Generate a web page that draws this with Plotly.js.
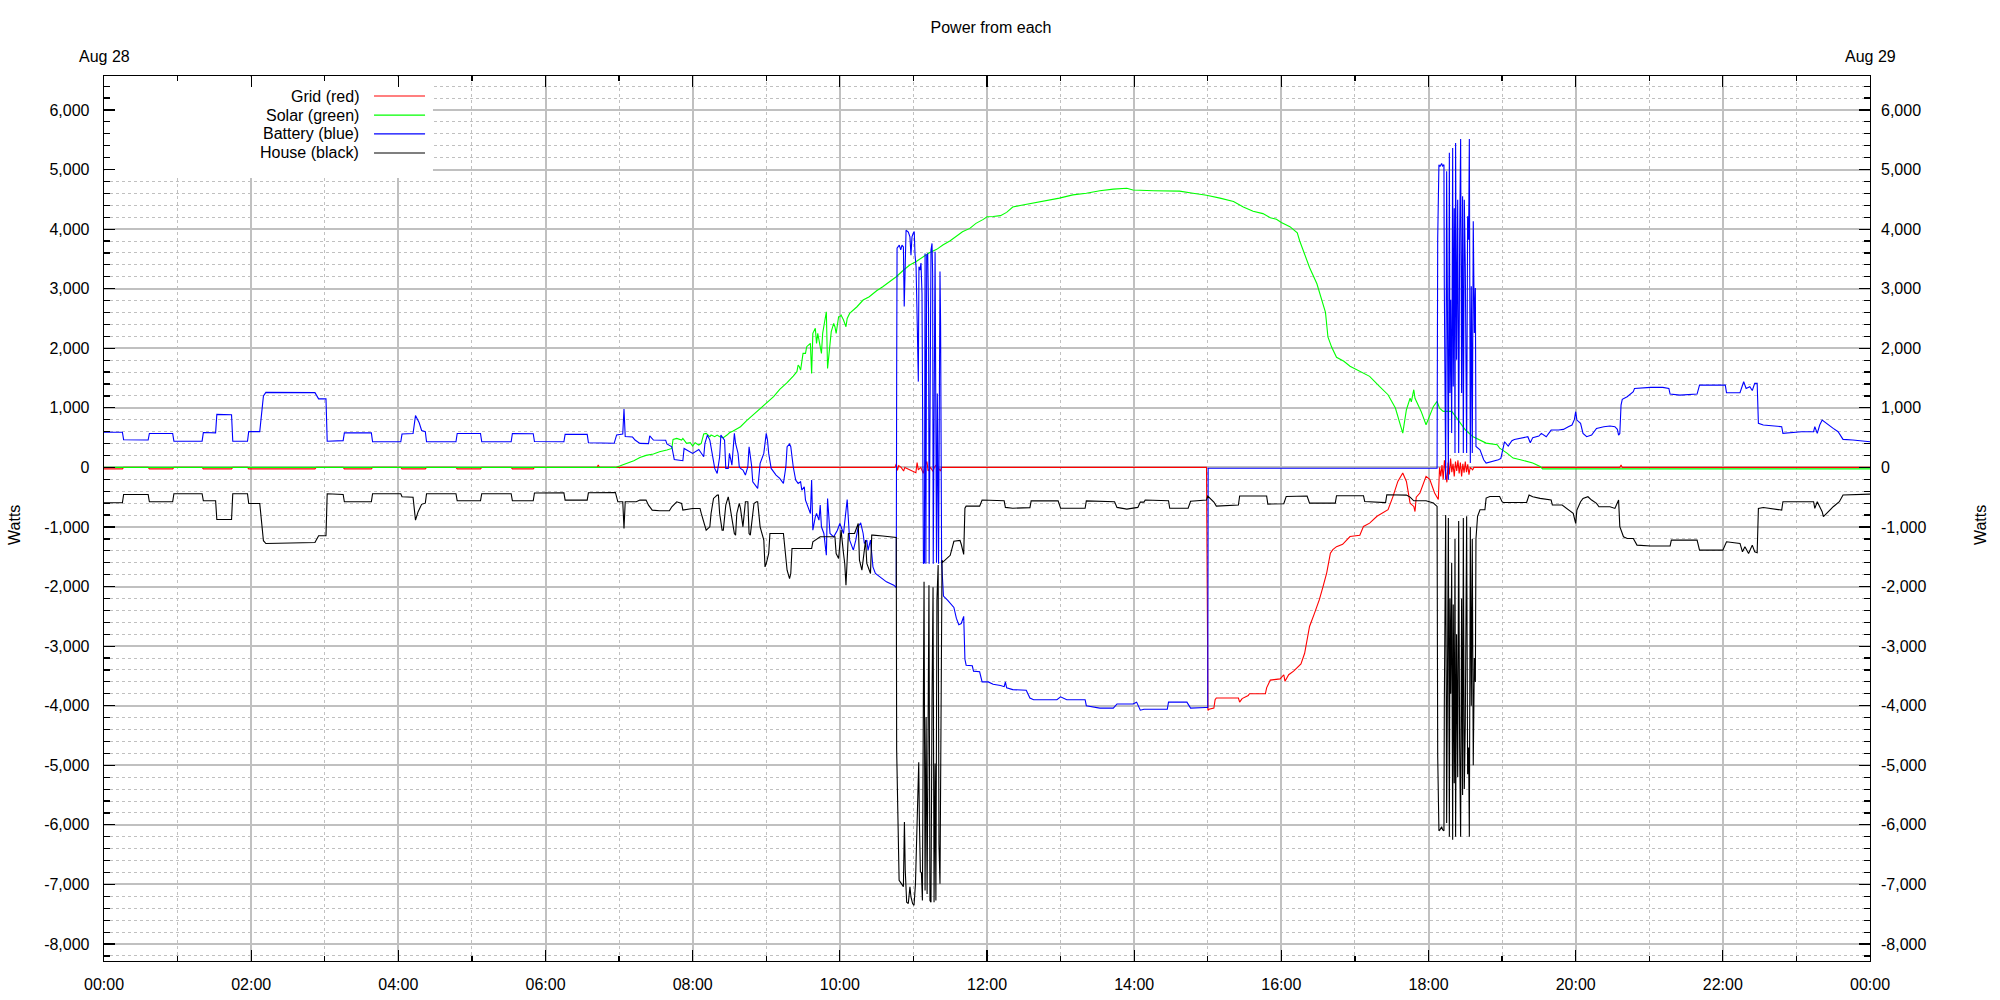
<!DOCTYPE html>
<html><head><meta charset="utf-8">
<script src="https://cdn.plot.ly/plotly-3.0.1.min.js"></script>
<style>html,body{margin:0;padding:0;background:#fff;} #chart{width:2000px;height:1000px;}</style>
</head><body><div id="chart"></div>
<script>
const DAY = "2023-08-28";
const NEXT_DAY = "2023-08-29";
const chartTitle = "Power from each";
const dayLabels = ["Aug 28", "Aug 29"];
const yTitle = "Watts";
const yTickValues = [-8000,-7000,-6000,-5000,-4000,-3000,-2000,-1000,0,1000,2000,3000,4000,5000,6000];
const yTickLabels = ["-8,000","-7,000","-6,000","-5,000","-4,000","-3,000","-2,000","-1,000","0","1,000","2,000","3,000","4,000","5,000","6,000"];
const seriesNames = ["Grid (red)", "Solar (green)", "Battery (blue)", "House (black)"];
const seriesColors = ["#ff0000", "#00ff00", "#0000ff", "#000000"];

const gridData = [["00:00",-25],["00:15",-25],["00:16",0],["00:36",0],["00:37",-25],["00:56",-25],["00:57",0],["01:20",0],["01:21",-25],["01:44",-25],["01:45",0],["01:57",0],["01:58",-25],["02:52",-25],["02:53",0],["03:15",0],["03:16",-25],["03:38",-25],["03:39",0],["04:02",0],["04:03",-25],["04:22",-25],["04:23",0],["04:47",0],["04:48",-25],["05:07",-25],["05:08",0],["05:32",0],["05:33",-25],["05:50",-25],["05:51",0],["06:42",0],["06:43",40],["06:44",0],["10:45",0],["10:46",60],["10:47",-50],["10:48",30],["10:50",0],["10:52",-60],["10:53",0],["11:02",-90],["11:03",80],["11:04",-40],["11:06",0],["11:08",-100],["11:09",0],["11:11",100],["11:12",-60],["11:14",0],["11:16",-70],["11:17",0],["11:19",50],["11:20",0],["11:22",-60],["11:23",0],["14:59:00",0],["14:59:20",-1100],["15:00:10",-4080],["15:01",-4060],["15:05",-4040],["15:06",-3900],["15:07",-3870],["15:25",-3870],["15:26",-3940],["15:28",-3880],["15:33",-3830],["15:34",-3800],["15:47",-3800],["15:48",-3700],["15:51",-3570],["15:59",-3550],["16:02",-3480],["16:03",-3590],["16:06",-3480],["16:10",-3420],["16:14",-3350],["16:16",-3300],["16:19",-3120],["16:23",-2670],["16:27",-2450],["16:31",-2220],["16:34",-2000],["16:37",-1770],["16:40",-1440],["16:42",-1380],["16:45",-1330],["16:50",-1290],["16:56",-1160],["17:04",-1140],["17:07",-990],["17:12",-935],["17:18",-820],["17:23",-765],["17:27",-710],["17:31",-490],["17:35",-235],["17:39",-95],["17:42",-235],["17:45",-600],["17:48",-655],["17:49",-740],["17:50",-500],["17:53",-430],["17:56",-250],["17:58",-150],["18:01",-200],["18:03",-320],["18:05",-430],["18:08",-540],["18:09",0],["18:10",-150],["18:11",40],["18:12",-200],["18:13",120],["18:14",-100],["18:15",-250],["18:16",80],["18:17",-120],["18:18",150],["18:19",-80],["18:20",60],["18:21",-150],["18:22",100],["18:23",-60],["18:24",120],["18:25",-100],["18:26",80],["18:27",-150],["18:28",60],["18:29",-90],["18:30",100],["18:31",-80],["18:32",50],["18:33",-120],["18:34",0],["18:36",-40],["18:37",0],["20:36",0],["20:37",40],["20:38",0],["24:00",0]];

const solarData = [["00:00",0],["06:57",0],["07:01",28],["07:06",67],["07:12",112],["07:17",168],["07:22",202],["07:28",224],["07:33",263],["07:39",291],["07:43",319],["07:44",470],["07:47",487],["07:51",459],["07:52",487],["07:55",403],["07:58",415],["08:00",358],["08:02",415],["08:05",375],["08:07",403],["08:09",560],["08:11",571],["08:14",515],["08:15",543],["08:18",515],["08:20",543],["08:22",515],["08:25",498],["08:28",543],["08:30",582],["08:33",610],["08:39",683],["08:44",784],["08:49",879],["08:55",991],["09:00",1086],["09:06",1187],["09:11",1310],["09:17",1422],["09:22",1534],["09:25",1607],["09:26",1719],["09:27",1690],["09:28",1634],["09:29",1775],["09:30",1915],["09:32",1914],["09:33",2026],["09:36",2082],["09:37",1578],["09:38",2250],["09:40",2334],["09:41",2082],["09:42",2250],["09:44",2026],["09:45",1914],["09:46",2250],["09:48",2473],["09:49",2613],["09:50",1662],["09:52",2138],["09:53",2278],["09:55",2417],["09:56",2361],["09:57",2250],["09:59",2529],["10:00",2529],["10:01",2557],["10:03",2473],["10:04",2417],["10:05",2361],["10:06",2501],["10:08",2585],["10:14",2697],["10:19",2809],["10:24",2865],["10:30",2966],["10:35",3033],["10:41",3117],["10:46",3201],["10:52",3313],["10:57",3397],["11:02",3453],["11:08",3537],["11:13",3604],["11:19",3660],["11:24",3733],["11:30",3805],["11:35",3884],["11:40",3956],["11:46",4012],["11:51",4096],["11:57",4163],["12:00",4208],["12:05",4212],["12:11",4226],["12:16",4281],["12:21",4370],["12:27",4397],["12:38",4438],["12:49",4486],["12:59",4520],["13:10",4575],["13:21",4603],["13:32",4644],["13:43",4671],["13:54",4685],["13:59",4657],["14:16",4644],["14:37",4637],["14:48",4603],["14:59",4568],["15:10",4520],["15:21",4465],["15:29",4370],["15:37",4301],["15:45",4260],["15:51",4192],["15:56",4164],["16:00",4110],["16:07",4041],["16:13",3938],["16:15",3801],["16:18",3630],["16:23",3356],["16:29",3082],["16:33",2808],["16:36",2603],["16:38",2192],["16:41",2020],["16:45",1849],["16:51",1781],["16:56",1699],["17:04",1612],["17:12",1528],["17:20",1360],["17:27",1220],["17:33",996],["17:37",716],["17:39",576],["17:42",968],["17:45",1164],["17:46",1100],["17:48",1304],["17:49",1160],["17:52",1024],["17:54",940],["17:58",716],["18:01",856],["18:04",1024],["18:07",1108],["18:09",996],["18:12",940],["18:19",940],["18:22",856],["18:27",716],["18:30",632],["18:36",520],["18:42",464],["18:47",408],["18:56",380],["18:58",324],["19:04",240],["19:09",157],["19:15",129],["19:20",101],["19:25",73],["19:31",17],["19:32",0],["19:33",-25],["24:00",-25]];

const batteryData = [["00:00",590],["00:15",590],["00:16",465],["00:36",460],["00:37",570],["00:56",570],["00:57",440],["01:20",440],["01:21",585],["01:31",580],["01:32",890],["01:44",885],["01:45",440],["01:57",440],["01:58",600],["02:07",600],["02:10",1200],["02:12",1260],["02:52",1255],["02:55",1150],["03:01",1150],["03:02",440],["03:15",450],["03:16",580],["03:38",580],["03:39",430],["04:02",430],["04:03",560],["04:12",570],["04:14",870],["04:17",750],["04:19",620],["04:22",600],["04:23",430],["04:47",430],["04:48",570],["05:07",570],["05:08",430],["05:32",430],["05:33",570],["05:50",565],["05:51",435],["06:15",430],["06:16",555],["06:34",555],["06:35",415],["06:56",405],["06:58",545],["07:03",560],["07:04",980],["07:05",520],["07:11",510],["07:13",460],["07:17",403],["07:24",400],["07:25",530],["07:28",460],["07:38",455],["07:39",395],["07:43",347],["07:45",134],["07:52",112],["07:53",319],["08:00",235],["08:05",302],["08:09",179],["08:10",403],["08:12",543],["08:14",459],["08:16",179],["08:18",-17],["08:20",-101],["08:22",179],["08:23",543],["08:24",515],["08:26",459],["08:27",-17],["08:29",-17],["08:30",235],["08:32",39],["08:34",571],["08:35",403],["08:37",235],["08:38",11],["08:39",-17],["08:41",-45],["08:43",-129],["08:45",11],["08:46",347],["08:47",179],["08:48",39],["08:49",-241],["08:52",-325],["08:53",-353],["08:54",-157],["08:55",67],["08:58",235],["08:59",459],["09:00",571],["09:01",459],["09:02",235],["09:04",-17],["09:06",-73],["09:08",-129],["09:11",-185],["09:14",-269],["09:16",11],["09:17",347],["09:19",392],["09:20",347],["09:22",11],["09:24",-213],["09:26",-269],["09:28",-241],["09:29",-381],["09:31",-325],["09:32",-549],["09:34",-661],["09:36",-773],["09:37",-213],["09:38",-1053],["09:40",-829],["09:41",-773],["09:43",-885],["09:44",-633],["09:45",-997],["09:47",-1109],["09:49",-1473],["09:50",-521],["09:52",-1109],["09:55",-1165],["09:58",-1053],["10:00",-941],["10:01",-997],["10:03",-1109],["10:06",-538],["10:07",-885],["10:08",-1221],["10:11",-1389],["10:13",-1221],["10:15",-997],["10:17",-930],["10:19",-1109],["10:20",-1277],["10:22",-1221],["10:23",-1389],["10:25",-1221],["10:27",-1669],["10:29",-1781],["10:33",-1837],["10:38",-1921],["10:44",-1977],["10:46",-2016],["10:46:20",1500],["10:46:40",3680],["10:48:30",3730],["10:49:40",3650],["10:50:40",3730],["10:51:50",3700],["10:52:30",2700],["10:53:20",3430],["10:54:00",3980],["10:55:50",3950],["10:57:10",3870],["10:58:00",3560],["10:58:50",3870],["10:59:50",3930],["11:00:40",3960],["11:01:20",3560],["11:02:10",3370],["11:03:10",2360],["11:04:00",1440],["11:04:30",3370],["11:05:20",3310],["11:06:10",3430],["11:07:00",2920],["11:08:10",-1615],["11:09:00",-1600],["11:09:30",3590],["11:10:10",-1615],["11:10:50",3560],["11:11:40",3590],["11:12:20",2640],["11:12:50",-1615],["11:14:20",3650],["11:15:10",3760],["11:15:40",3260],["11:16:10",-1615],["11:17:40",3620],["11:18:20",1470],["11:18:50",-1600],["11:19:30",1240],["11:20:30",-1615],["11:21:40",3290],["11:22:10",2390],["11:23:00",-1600],["11:23:50",-2100],["11:24:30",-2160],["11:28",-2230],["11:33",-2350],["11:35",-2530],["11:37",-2640],["11:39",-2620],["11:41",-2500],["11:42",-3220],["11:43",-3320],["11:48",-3330],["11:49",-3420],["11:54",-3430],["11:56",-3600],["12:01",-3600],["12:05",-3640],["12:11",-3660],["12:14",-3680],["12:15",-3600],["12:16",-3700],["12:21",-3730],["12:32",-3740],["12:35",-3870],["12:38",-3900],["12:57",-3900],["13:00",-3850],["13:05",-3900],["13:20",-3900],["13:21",-4000],["13:32",-4040],["13:43",-4040],["13:46",-3970],["13:59",-3970],["14:02",-3940],["14:05",-4075],["14:08",-4060],["14:27",-4060],["14:28",-3940],["14:43",-3940],["14:46",-4040],["14:58",-4030],["15:00",-4030],["15:00:20",-15],["18:07",-15],["18:07:30",3850],["18:08:30",5080],["18:09:24",5050],["18:10:42",5100],["18:11:30",5060],["18:12:36",5080],["18:12:54",3010],["18:13:30",-200],["18:14:00",-207],["18:14:48",4970],["18:15:36",2370],["18:16:12",-207],["18:17:00",5280],["18:17:30",1250],["18:18:06",2815],["18:18:54",576],["18:19:42",5360],["18:20:12",1360],["18:21:00",4350],["18:21:36",240],["18:22:06",5445],["18:22:54",1808],["18:23:48",4494],["18:24:36",240],["18:25:24",3822],["18:26:12",5512],["18:27:00",1248],["18:27:48",4550],["18:28:24",240],["18:29:12",4494],["18:30:00",3374],["18:31:06",240],["18:31:54",4214],["18:32:42",3822],["18:33:18",5512],["18:34:06",73],["18:34:54",3039],["18:35:42",240],["18:36:30",4130],["18:37:24",2255],["18:38:12",3011],["18:38:42",353],["18:42",297],["18:45",129],["18:47",73],["18:53",101],["18:57",129],["18:59",151],["19:01",375],["19:02",431],["19:05",358],["19:08",448],["19:10",470],["19:15",487],["19:21",515],["19:23",414],["19:25",500],["19:30",526],["19:32",571],["19:36",515],["19:40",627],["19:46",627],["19:50",638],["19:54",683],["19:57",711],["19:59",806],["20:00",935],["20:01",795],["20:04",739],["20:06",571],["20:09",515],["20:13",543],["20:17",655],["20:23",683],["20:28",694],["20:32",683],["20:34",640],["20:35",543],["20:36",570],["20:37",1046],["20:38",1142],["20:42",1186],["20:47",1270],["20:48",1326],["21:01",1343],["21:11",1343],["21:16",1326],["21:17",1231],["21:25",1214],["21:39",1231],["21:41",1382],["22:02",1382],["22:03",1254],["22:14",1254],["22:16",1382],["22:17",1438],["22:19",1326],["22:22",1354],["22:24",1290],["22:26",1410],["22:28",1410],["22:29",739],["22:33",711],["22:48",683],["22:49",571],["23:04",599],["23:14",599],["23:15",683],["23:17",571],["23:19",711],["23:21",795],["23:26",711],["23:30",655],["23:34",599],["23:37",515],["23:38",470],["23:46",459],["24:00",431]];

const houseData = [["00:00",-594],["00:15",-594],["00:16",-454],["00:36",-454],["00:37",-577],["00:56",-577],["00:57",-442],["01:20",-442],["01:21",-560],["01:31",-560],["01:32",-874],["01:44",-874],["01:45",-442],["01:57",-442],["01:58",-605],["02:07",-605],["02:10",-1230],["02:12",-1277],["02:52",-1260],["02:55",-1148],["03:01",-1148],["03:02",-442],["03:15",-454],["03:16",-577],["03:38",-577],["03:39",-442],["04:02",-442],["04:03",-493],["04:12",-500],["04:14",-885],["04:16",-750],["04:19",-620],["04:22",-600],["04:23",-442],["04:47",-442],["04:48",-560],["05:07",-560],["05:08",-442],["05:32",-442],["05:33",-560],["05:50",-560],["05:51",-430],["06:15",-426],["06:16",-549],["06:34",-549],["06:35",-426],["06:57",-420],["06:58",-493],["06:59",-577],["07:03",-577],["07:04",-1025],["07:05",-577],["07:14",-577],["07:17",-549],["07:22",-549],["07:24",-633],["07:27",-717],["07:33",-728],["07:41",-728],["07:43",-661],["07:47",-577],["07:51",-605],["07:52",-717],["08:00",-689],["08:06",-689],["08:07",-773],["08:09",-913],["08:11",-1053],["08:14",-997],["08:15",-773],["08:17",-521],["08:20",-465],["08:21",-465],["08:22",-773],["08:24",-1053],["08:25",-1053],["08:27",-633],["08:29",-493],["08:30",-605],["08:32",-829],["08:34",-1109],["08:35",-1137],["08:36",-773],["08:38",-605],["08:39",-689],["08:41",-997],["08:43",-577],["08:45",-577],["08:46",-1109],["08:47",-1137],["08:49",-745],["08:50",-605],["08:52",-577],["08:53",-577],["08:55",-997],["08:58",-1221],["08:59",-1669],["09:00",-1613],["09:02",-1445],["09:03",-1109],["09:14",-1109],["09:16",-1501],["09:17",-1725],["09:19",-1865],["09:20",-1781],["09:21",-1361],["09:37",-1361],["09:38",-1249],["09:44",-1165],["09:56",-1165],["09:57",-1445],["09:59",-1529],["10:00",-1305],["10:01",-1053],["10:03",-1445],["10:04",-1613],["10:05",-1977],["10:07",-1109],["10:12",-1109],["10:15",-941],["10:16",-1557],["10:18",-1725],["10:19",-1557],["10:21",-1221],["10:22",-1613],["10:23",-1669],["10:25",-1781],["10:26",-1137],["10:27",-1137],["10:35",-1150],["10:46",-1176],["10:46:20",-4740],["10:48:20",-6930],["10:50:20",-6990],["10:51:50",-7040],["10:52:40",-5950],["10:53:20",-6760],["10:54:30",-7300],["10:55:50",-7320],["10:57:10",-7040],["10:58:00",-7210],["10:59:20",-7320],["11:00:30",-7350],["11:01:40",-6990],["11:02:40",-6340],["11:03:30",-5420],["11:04:20",-4950],["11:04:50",-5870],["11:05:40",-6790],["11:06:30",-6800],["11:07:20",-7270],["11:08:10",-3690],["11:08:40",-1920],["11:09:30",-7100],["11:10:20",-4190],["11:11:10",-7160],["11:11:50",-3570],["11:12:40",-1980],["11:13:30",-7270],["11:14:20",-7300],["11:15:10",-3910],["11:16:00",-2010],["11:16:50",-7300],["11:17:40",-4970],["11:18:20",-7270],["11:19:10",-2230],["11:20:10",-1640],["11:20:50",-6320],["11:21:40",-6990],["11:22:30",-4970],["11:23:20",-1560],["11:24",-1590],["11:27",-1530],["11:30",-1475],["11:33",-1240],["11:38",-1225],["11:39",-1290],["11:41",-1460],["11:42",-685],["11:43",-650],["11:54",-650],["11:56",-548],["12:14",-560],["12:15",-671],["12:21",-685],["12:35",-675],["12:36",-562],["12:58",-562],["13:00",-685],["13:20",-685],["13:21",-562],["13:44",-575],["13:46",-671],["13:54",-700],["14:03",-671],["14:05",-582],["14:08",-582],["14:09",-548],["14:28",-560],["14:29",-685],["14:44",-685],["14:46",-568],["14:59",-548],["15:00",-480],["15:05",-582],["15:07",-650],["15:25",-630],["15:26",-480],["15:48",-480],["15:49",-616],["16:02",-610],["16:03",-543],["16:04",-487],["16:21",-480],["16:23",-599],["16:44",-599],["16:45",-476],["17:07",-476],["17:08",-571],["17:25",-590],["17:26",-459],["17:42",-465],["17:45",-498],["17:48",-560],["17:58",-560],["18:04",-599],["18:07",-655],["18:07:30",-4850],["18:08:30",-6100],["18:09:24",-6080],["18:10:42",-6030],["18:11:30",-6080],["18:12:36",-6100],["18:12:54",-4000],["18:13:30",-1600],["18:14:00",-800],["18:14:48",-5970],["18:15:36",-3300],["18:16:12",-850],["18:17:00",-6200],["18:17:30",-2200],["18:18:06",-3800],["18:18:54",-1600],["18:19:42",-6250],["18:20:12",-2300],["18:21:00",-5300],["18:21:36",-1200],["18:22:06",-6200],["18:22:54",-2800],["18:23:48",-5200],["18:24:36",-900],["18:25:24",-4700],["18:26:12",-6200],["18:27:00",-2200],["18:27:48",-5500],["18:28:24",-850],["18:29:12",-5400],["18:30:00",-4300],["18:31:06",-820],["18:31:54",-5150],["18:32:42",-4700],["18:33:18",-6200],["18:34:06",-1000],["18:34:54",-4000],["18:35:42",-1200],["18:36:30",-5000],["18:37:24",-3200],["18:38:12",-3600],["18:38:42",-1200],["18:40",-820],["18:42",-710],["18:46",-710],["18:47",-515],["18:50",-487],["18:58",-487],["19:00",-576],["19:01",-588],["19:20",-588],["19:22",-464],["19:25",-492],["19:31",-520],["19:40",-548],["19:41",-632],["19:49",-632],["19:51",-660],["19:55",-716],["19:58",-772],["20:00",-940],["20:01",-716],["20:04",-576],["20:06",-520],["20:10",-492],["20:13",-548],["20:17",-604],["20:19",-660],["20:28",-660],["20:32",-688],["20:35",-548],["20:36",-996],["20:39",-1164],["20:42",-1192],["20:47",-1192],["20:50",-1304],["21:01",-1320],["21:17",-1320],["21:18",-1220],["21:39",-1220],["21:41",-1388],["22:00",-1388],["22:03",-1248],["22:14",-1276],["22:16",-1416],["22:18",-1332],["22:21",-1444],["22:24",-1304],["22:26",-1416],["22:28",-1432],["22:29",-688],["22:33",-672],["22:48",-716],["22:49",-576],["23:14",-576],["23:15",-688],["23:17",-576],["23:21",-744],["23:22",-828],["23:26",-744],["23:30",-660],["23:35",-576],["23:38",-464],["24:00",-448]];

function toDate(t) { return t === "24:00" ? NEXT_DAY + " 00:00" : DAY + " " + t; }
function makeTrace(points, idx, yaxis) {
  return {
    type: "scatter", mode: "lines", name: seriesNames[idx],
    x: points.map(p => toDate(p[0])), y: points.map(p => p[1]),
    line: {color: seriesColors[idx], width: 1.1},
    yaxis: yaxis, showlegend: false, hoverinfo: "skip"
  };
}
const traces = [
  makeTrace(gridData, 0, "y"),
  makeTrace(solarData, 1, "y"),
  makeTrace(batteryData, 2, "y"),
  makeTrace(houseData, 3, "y2")
];

const FONT = '"Liberation Sans", Arial, sans-serif';
const yRange = [-8285, 6570];
const xRange = [DAY + " 00:00", NEXT_DAY + " 00:00"];

const legendRowsY = [0.9774, 0.9559, 0.9345, 0.9130];
const legendBox = {x0: DAY + " 00:00:20", x1: DAY + " 04:28:15", y0: 4858, y1: 6555};
const shapes = [
  {type: "rect", layer: "between", xref: "x", yref: "y", x0: legendBox.x0, x1: legendBox.x1, y0: legendBox.y0, y1: legendBox.y1, fillcolor: "#ffffff", line: {width: 0}}
];
const annotations = [];
seriesNames.forEach((name, i) => {
  annotations.push({text: name, xref: "paper", yref: "paper", x: 0.1455, y: legendRowsY[i], xanchor: "right", yanchor: "middle", showarrow: false, font: {family: FONT, size: 16, color: "#000"}});
  shapes.push({type: "line", layer: "above", xref: "paper", yref: "paper", x0: 0.1529, x1: 0.1818, y0: legendRowsY[i], y1: legendRowsY[i], line: {color: seriesColors[i], width: 1.2}});
});
annotations.push({text: dayLabels[0], xref: "x", yref: "paper", x: xRange[0], y: 1.0215, xanchor: "center", yanchor: "middle", showarrow: false, font: {family: FONT, size: 16, color: "#000"}});
annotations.push({text: dayLabels[1], xref: "x", yref: "paper", x: xRange[1], y: 1.0215, xanchor: "center", yanchor: "middle", showarrow: false, font: {family: FONT, size: 16, color: "#000"}});
annotations.push({text: yTitle, xref: "paper", yref: "paper", x: -0.0504, y: 0.4927, textangle: -90, xanchor: "center", yanchor: "middle", showarrow: false, font: {family: FONT, size: 16, color: "#000"}});
annotations.push({text: yTitle, xref: "paper", yref: "paper", x: 1.0629, y: 0.4927, textangle: -90, xanchor: "center", yanchor: "middle", showarrow: false, font: {family: FONT, size: 16, color: "#000"}});

const layout = {
  width: 2000, height: 1000,
  margin: {l: 104, r: 130, t: 76, b: 39, pad: 0},
  paper_bgcolor: "#ffffff", plot_bgcolor: "#ffffff",
  font: {family: FONT, size: 16, color: "#000"},
  title: {text: chartTitle, xref: "container", yref: "container", x: 0.4955, y: 0.973, xanchor: "center", yanchor: "middle", font: {family: FONT, size: 16, color: "#000"}},
  showlegend: false,
  hovermode: false,
  xaxis: {
    type: "date", range: xRange, tick0: xRange[0], dtick: 7200000, tickformat: "%H:%M",
    ticks: "inside", ticklen: 11, tickwidth: 1.2, tickcolor: "#000",
    showline: true, linecolor: "#000", linewidth: 1.3, mirror: "ticks",
    showgrid: true, gridcolor: "#c0c0c0", gridwidth: 2, zeroline: false,
    ticklabelstandoff: 8, tickfont: {family: FONT, size: 16, color: "#000"},
    minor: {tick0: xRange[0], dtick: 3600000, ticks: "inside", ticklen: 5, tickwidth: 1.2, tickcolor: "#000", showgrid: true, gridcolor: "#c0c0c0", gridwidth: 1, griddash: "dot"},
    fixedrange: true
  },
  yaxis: {
    range: yRange, tickmode: "array", tickvals: yTickValues, ticktext: yTickLabels,
    ticks: "inside", ticklen: 11, tickwidth: 1.2, tickcolor: "#000",
    showline: true, linecolor: "#000", linewidth: 1.3, mirror: "ticks",
    showgrid: true, gridcolor: "#c0c0c0", gridwidth: 2, zeroline: false,
    ticklabelstandoff: 10, tickfont: {family: FONT, size: 16, color: "#000"},
    minor: {tickmode: "linear", tick0: 0, dtick: 200, ticks: "inside", ticklen: 6, tickwidth: 1.2, tickcolor: "#000", showgrid: true, gridcolor: "#c0c0c0", gridwidth: 1, griddash: "dot"},
    fixedrange: true
  },
  yaxis2: {
    overlaying: "y", side: "right", range: yRange, tickmode: "array", tickvals: yTickValues, ticktext: yTickLabels,
    ticks: "", showgrid: false, zeroline: false, showline: false,
    ticklabelstandoff: 10, tickfont: {family: FONT, size: 16, color: "#000"},
    fixedrange: true
  },
  shapes: shapes,
  annotations: annotations
};

Plotly.newPlot("chart", traces, layout, {displayModeBar: false, staticPlot: true});
</script>
</body></html>
